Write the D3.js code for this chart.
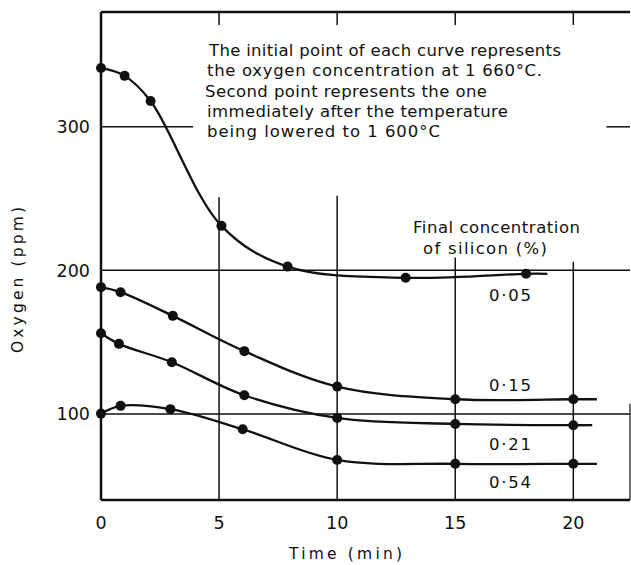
<!DOCTYPE html>
<html>
<head>
<meta charset="utf-8">
<script src="https://cdn.jsdelivr.net/npm/d3@7"></script>
<style>
  html, body { margin: 0; padding: 0; background: #fff; }
  svg { display: block; }
  text { font-family: "DejaVu Sans", sans-serif; fill: #111; }
</style>
</head>
<body>
<svg id="chart" width="631" height="565"></svg>
<script>
// Oxygen content of the melt vs. holding time, one curve per final silicon level
const silicon = ["0·05", "0·15", "0·21", "0·54"];

const time05 = [0, 1.0, 2.1, 5.1, 7.9, 12.9, 18.0];
const oxygen05 = [341, 335.5, 318, 231, 202.6, 194.8, 197.6];

const time15 = [0, 0.83, 3.04, 6.07, 10, 15, 20];
const oxygen15 = [188.3, 184.8, 168.3, 143.7, 119, 110.2, 110.2];

const time21 = [0, 0.76, 3.0, 6.07, 10, 15, 20];
const oxygen21 = [156.2, 148.8, 136, 113, 97.2, 93, 92.1];

const time54 = [0, 0.83, 2.94, 6.0, 10, 15, 20];
const oxygen54 = [100.2, 105.6, 103.3, 89.3, 67.9, 65.2, 65.2];

// time at which each drawn curve stops
const curveEnd = [18.9, 21.0, 20.8, 21.0];

const timeTicks = [0, 5, 10, 15, 20];
const oxygenTicks = [100, 200, 300];

const note = [
  "The initial point of each curve represents",
  "the oxygen concentration at 1 660°C.",
  "Second point represents the one",
  "immediately after the temperature",
  "being lowered to 1 600°C"
];
const noteWidths = [352, 335, 282, 301, 233];
const legendTitle = ["Final concentration", "of silicon (%)"];

const series = [
  { label: silicon[0], t: time05, o: oxygen05, end: curveEnd[0] },
  { label: silicon[1], t: time15, o: oxygen15, end: curveEnd[1] },
  { label: silicon[2], t: time21, o: oxygen21, end: curveEnd[2] },
  { label: silicon[3], t: time54, o: oxygen54, end: curveEnd[3] }
];

const svg = d3.select("#chart");
const x = d3.scaleLinear().domain([0, 22.4]).range([101, 630]);
const y = d3.scaleLinear().domain([40, 380]).range([500, 12]);

const ink = "#111";

// partial grid lines, as on the original plate
const grid = svg.append("g").attr("stroke", ink).attr("stroke-width", 1.5).attr("fill", "none");
// horizontal
grid.append("line").attr("x1", x(0)).attr("x2", x(3.9)).attr("y1", y(300)).attr("y2", y(300));
grid.append("line").attr("x1", x(21.4)).attr("x2", x(22.4)).attr("y1", y(300)).attr("y2", y(300));
grid.append("line").attr("x1", x(0)).attr("x2", x(22.4)).attr("y1", y(200)).attr("y2", y(200));
grid.append("line").attr("x1", x(0)).attr("x2", x(22.4)).attr("y1", y(100)).attr("y2", y(100));
// vertical, starting under the note
const vTop = { 5: 251, 10: 252, 15: 209, 20: 206 };
[5, 10, 15, 20].forEach(t => {
  grid.append("line").attr("x1", x(t)).attr("x2", x(t)).attr("y1", y(vTop[t])).attr("y2", y(40));
  // short ticks hanging from the top frame
  grid.append("line").attr("x1", x(t)).attr("x2", x(t)).attr("y1", y(380)).attr("y2", y(371));
});

// frame
const frame = svg.append("g").attr("stroke", ink).attr("stroke-width", 2.5).attr("fill", "none");
frame.append("line").attr("x1", x(0)).attr("x2", x(0)).attr("y1", y(380)).attr("y2", y(40));
frame.append("line").attr("x1", x(0)).attr("x2", x(22.4)).attr("y1", y(40)).attr("y2", y(40));
frame.append("line").attr("x1", x(0)).attr("x2", x(22.4)).attr("y1", y(380)).attr("y2", y(380));
frame.append("line").attr("x1", x(22.4)).attr("x2", x(22.4)).attr("y1", y(107)).attr("y2", y(40))
  .attr("stroke-width", 1.2);

// curves
const line = d3.line().x(d => x(d[0])).y(d => y(d[1])).curve(d3.curveCatmullRom.alpha(0.5));
series.forEach(s => {
  const pts = s.t.map((t, i) => [t, s.o[i]]);
  pts.push([s.end, s.o[s.o.length - 1]]);
  svg.append("path").datum(pts).attr("d", line)
    .attr("fill", "none").attr("stroke", ink).attr("stroke-width", 2.3);
  svg.append("g").selectAll("circle").data(pts.slice(0, -1)).join("circle")
    .attr("cx", d => x(d[0])).attr("cy", d => y(d[1])).attr("r", 5).attr("fill", ink);
});

// axis tick labels
svg.append("g").selectAll("text").data(oxygenTicks).join("text")
  .attr("x", 90).attr("y", d => y(d)).attr("dy", "0.36em")
  .attr("text-anchor", "end").attr("font-size", 17.5).text(d => d);
svg.append("g").selectAll("text").data(timeTicks).join("text")
  .attr("x", d => x(d)).attr("y", 523).attr("dy", "0.36em")
  .attr("text-anchor", "middle").attr("font-size", 17.5).text(d => d);

// axis titles
svg.append("text").attr("x", 289).attr("y", 559).attr("font-size", 15.5)
  .attr("textLength", 113).attr("lengthAdjust", "spacing").text("Time (min)");
svg.append("text").attr("transform", "translate(23,353) rotate(-90)")
  .attr("font-size", 15.5).attr("textLength", 146).attr("lengthAdjust", "spacing")
  .text("Oxygen (ppm)");

// explanatory note
svg.append("g").selectAll("text").data(note).join("text")
  .attr("x", (d, i) => [209, 207, 205, 207, 207][i])
  .attr("y", (d, i) => 56 + i * 20.3)
  .attr("font-size", 16.5)
  .attr("textLength", (d, i) => noteWidths[i]).attr("lengthAdjust", "spacing")
  .text(d => d);

// legend title and curve labels
svg.append("text").attr("x", 413).attr("y", 233).attr("font-size", 16.5)
  .attr("textLength", 167).attr("lengthAdjust", "spacing").text(legendTitle[0]);
svg.append("text").attr("x", 423).attr("y", 254).attr("font-size", 16.5)
  .attr("textLength", 124).attr("lengthAdjust", "spacing").text(legendTitle[1]);

const labelBase = [301, 391, 450, 488];
svg.append("g").selectAll("text").data(series).join("text")
  .attr("x", 489).attr("y", (d, i) => labelBase[i])
  .attr("font-size", 16.5).attr("textLength", 42).attr("lengthAdjust", "spacing")
  .text(d => d.label);
</script>
</body>
</html>
